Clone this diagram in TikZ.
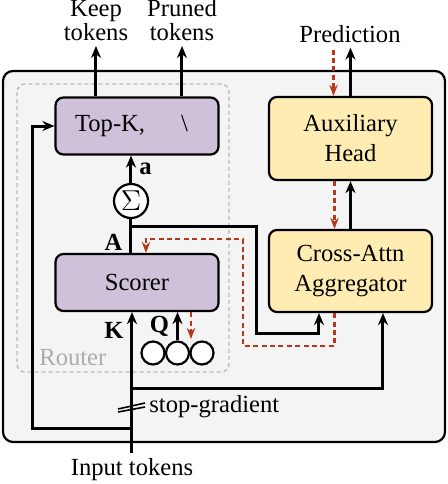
\documentclass[tikz,border=0pt]{standalone}
\usepackage{fontspec}
\setmainfont{Liberation Serif}
\usepackage{tikz}
\usetikzlibrary{arrows.meta,positioning}
\definecolor{lilac}{HTML}{D0C1DA}
\definecolor{cream}{HTML}{FFECB3}
\definecolor{rust}{HTML}{B3381C}
\definecolor{panel}{HTML}{F4F4F4}

\begin{document}
\begin{tikzpicture}[
  x=0.5pt,y=-0.5pt,
  font=\fontsize{12.3}{15}\selectfont,
  box/.style={draw,line width=1.1pt,rounded corners=4pt,align=center,minimum width=81.5pt},
  route/.style={box,fill=lilac,minimum height=28.5pt},
  head/.style={box,fill=cream},
  arr/.style={-{Stealth[length=6pt,width=5pt]},line width=1.5pt},
  grad/.style={-{Stealth[length=5.5pt,width=4.2pt]},line width=1.2pt,color=rust,dash pattern=on 2.5pt off 1.7pt},
  lbl/.style={align=center,inner sep=2.5pt,font=\fontsize{12.3}{12}\selectfont},
  sym/.style={inner sep=3.5pt,font=\fontsize{12.3}{14}\selectfont},
  pebble/.style={circle,draw,line width=1.1pt,fill=white,minimum size=11.5pt,inner sep=0pt}
]
\useasboundingbox (0,0) rectangle (448,484);
\draw[line width=1.1pt,fill=panel,rounded corners=5pt] (3,71) rectangle (445,442);
\draw[line width=0.7pt,color=gray!55,dash pattern=on 2pt off 1.5pt,rounded corners=4pt] (17,84) rectangle (229,372);
\node[anchor=base west,inner sep=0pt,text=gray!65] (routerlbl) at (39,365) {Router};

\node[route] (topk) at (137,126) {Top-K,\hspace{18pt}\textbackslash\hspace{5.5pt}};
\node[route] (scorer) at (137,282.5) {Scorer};
\node[head,minimum height=41.5pt] (aux) at (350.5,138.5) {Auxiliary\\Head};
\node[head,minimum height=41pt] (xattn) at (350.5,271) {Cross-Attn\\Aggregator};
\node[circle,draw,line width=1.1pt,fill=white,minimum size=17pt,inner sep=0pt,font=\fontsize{14}{16}\selectfont] (sigma) at (131,201) {$\Sigma$};
\node[pebble] (q1) at (153,353) {};
\node[pebble] (q2) at (177.5,353) {};
\node[pebble] (q3) at (202,353) {};

\node[lbl,anchor=south] (keep) at (96,46) {Keep\\tokens};
\node[lbl,anchor=south] (pruned) at (182,46) {Pruned\\tokens};
\node[lbl,anchor=base] (pred) at (350,42) {Prediction};
\node[lbl,anchor=north] (input) at (132,453) {Input tokens};
\node[anchor=base west,inner sep=0pt] (sg) at (149,412) {stop-gradient};

\coordinate (abr) at (131,226);
\coordinate (kbr) at (132,388);
\coordinate (tbr) at (132,428);
\coordinate (cut) at (132,408);
\coordinate (gq) at (191,339);

\draw[arr] (topk.north -| keep) -- (keep);
\draw[arr] (topk.north -| pruned) -- (pruned);
\draw[arr] (sigma) -- (sigma |- topk.south) node[midway,right,sym] {$\mathbf{a}$};
\draw[line width=1.5pt] (sigma |- scorer.north) -- node[pos=.3,left,sym] {$\mathbf{A}$} (sigma);
\draw[arr] (abr) -| (257,333) -| ([xshift=-15.75pt]xattn.south);
\draw[arr] (input) -- node[pos=.87,left,sym] {$\mathbf{K}$} (input |- scorer.south);
\draw[arr] (kbr) -| ([xshift=16.25pt]xattn.south);
\draw[arr] (tbr) -| ([xshift=-11pt]topk.west) -- (topk.west);
\draw[arr] (q2) -- node[midway,left,sym] {$\mathbf{Q}$} (q2 |- scorer.south);
\draw[arr] (xattn) -- (aux);
\draw[arr] (aux.north) -- (aux.north |- pred.south);

\draw[grad] (gq |- scorer.south) -- (gq);
\draw[grad] ([xshift=-8pt]xattn.south) |- (243,346) -- (243,239) -| ([xshift=4.5pt]scorer.north);
\draw[grad] ([xshift=-8pt]aux.south) -- ([xshift=-8pt]xattn.north);
\draw[grad] ([xshift=-8.5pt,yshift=-1pt]aux.north |- pred.south) -- ([xshift=-8.5pt]aux.north);

\draw[line width=0.8pt] ([shift={(-7pt,-0.5pt)}]cut) -- ++(13.5pt,3pt);
\draw[line width=0.8pt] ([shift={(-7pt,-2pt)}]cut) -- ++(13.5pt,2.5pt);
\end{tikzpicture}
\end{document}
